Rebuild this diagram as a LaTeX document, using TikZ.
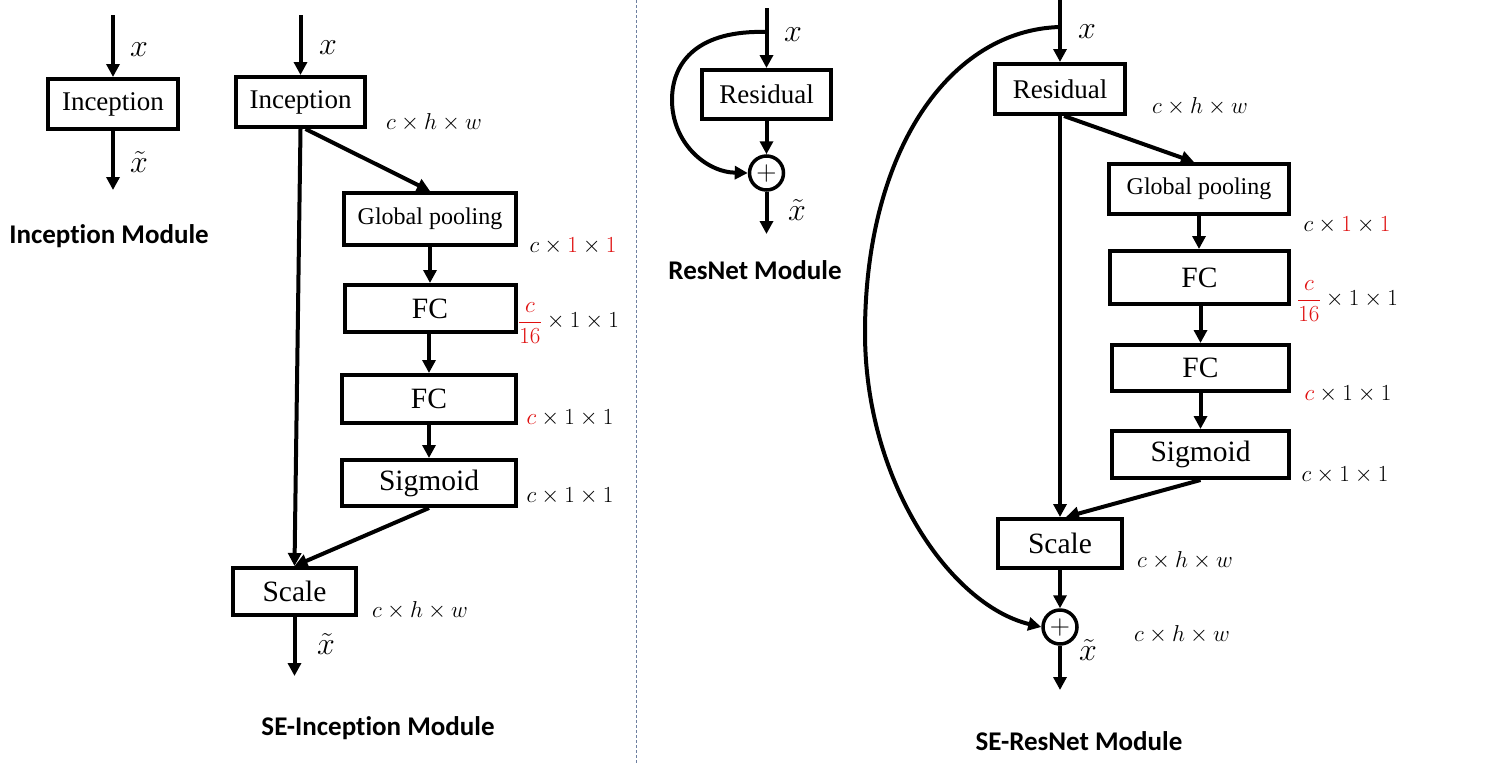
\RequirePackage{fix-cm}
\documentclass[tikz,border=0pt]{standalone}
\usepackage{fontspec}
\setmainfont{Liberation Serif}
\newfontfamily\titlefont[Ligatures=NoCommon]{Carlito}
\usetikzlibrary{arrows.meta}
\definecolor{divcol}{HTML}{6D7FA0}
\definecolor{myred}{HTML}{E01010}
\begin{document}
\begin{tikzpicture}[x=1pt,y=-1pt,
  box/.style={draw, line width=4pt, inner sep=0pt, font=\fontsize{27}{30}\selectfont},
  bigbox/.style={box, font=\fontsize{29.5}{32}\selectfont},
  gpbox/.style={box, font=\fontsize{24}{28}\selectfont},
  arr/.style={line width=4pt, -{Triangle[length=13pt,width=13pt]}},
  plusnode/.style={circle, draw, line width=3.5pt, minimum size=34pt, inner sep=0pt, font=\fontsize{28}{28}\selectfont},
  dimlab/.style={inner sep=0pt, font=\fontsize{23}{26}\selectfont},
  xlab/.style={inner sep=0pt, font=\fontsize{32}{34}\selectfont},
  title/.style={inner sep=0pt, font=\titlefont\bfseries\fontsize{27}{30}\selectfont}
]
\fill[white] (0,0) rectangle (1501,763);
\useasboundingbox (0,0) rectangle (1501,763);

% divider
\coordinate (dA) at (636,0);
\coordinate (dB) at (636,763);
\draw[divcol, line width=0.8pt, dash pattern=on 3pt off 2pt] (dA) -- (dB);

%%%%% Inception Module
\node[box, minimum width=130, minimum height=50] (inc1) at (113,104) {Inception};
\coordinate (in1) at (113,15);
\coordinate (out1) at (113,190);
\draw[arr] (in1) -- (inc1.north);
\draw[arr] (inc1.south) -- (out1);
\node[xlab] (lx1) at (139,50) {$x$};
\node[xlab] (lxt1) at (139,162) {$\tilde{x}$};
\node[title] (t1) at (109,236) {Inception Module};

%%%%% SE-Inception Module
\node[box, minimum width=129, minimum height=50] (inc2) at (300.5,102) {Inception};
\node[gpbox, minimum width=172, minimum height=52] (gp1) at (430,219) {Global pooling};
\node[bigbox, minimum width=171, minimum height=47] (fc1a) at (430,308.5) {FC};
\node[bigbox, minimum width=174, minimum height=48] (fc1b) at (429,399) {FC};
\node[bigbox, minimum width=174, minimum height=46] (sg1) at (429,483) {Sigmoid};
\node[bigbox, minimum width=123, minimum height=47] (sc1) at (294.5,591.5) {Scale};
\coordinate (in2) at (300.5,15);
\coordinate (out2) at (294.5,676);
\draw[arr] (in2) -- (inc2.north);
\draw[arr] (inc2.south) -- (sc1.north);
\draw[arr] ([xshift=5pt]inc2.south) -- (gp1.north);
\draw[arr] (gp1.south) -- (gp1.south |- fc1a.north);
\draw[arr] (fc1a.south -| fc1b.north) -- (fc1b.north);
\draw[arr] (fc1b.south) -- (sg1.north);
\draw[arr] (sg1.south) -- (sc1.north);
\draw[arr] (sc1.south) -- (out2);
\node[xlab] (lx2) at (328,48) {$x$};
\node[xlab] (lxt2) at (326,644) {$\tilde{x}$};
\node[dimlab] (d1) at (434,122) {$c\times h\times w$};
\node[dimlab] (d2) at (573,246) {$c\times{\color{myred}1}\times{\color{myred}1}$};
\node[dimlab, anchor=west] (d3) at (518,323) {${\color{myred}\displaystyle\frac{c}{16}}\times1\times1$};
\node[dimlab] (d4) at (570,418) {${\color{myred}c}\times1\times1$};
\node[dimlab] (d5) at (570,496) {$c\times1\times1$};
\node[dimlab] (d6) at (420,610) {$c\times h\times w$};
\node[title] (t2) at (378,728) {SE-Inception Module};

%%%%% ResNet Module
\node[box, minimum width=129, minimum height=49] (res1) at (766.5,94.5) {Residual};
\node[plusnode] (p1) at (766.5,173) {$+$};
\coordinate (in3) at (766.5,8);
\coordinate (rA) at (766.5,32);
\coordinate (out3) at (766.5,234);
\draw[arr] (in3) -- (res1.north);
\draw[arr] (res1.south) -- (p1.north);
\draw[arr] (p1.south) -- (out3);
\draw[arr] (rA) .. controls (700,30) and (672,60) .. (672,100) .. controls (672,142) and (705,172) .. (p1.west);
\node[xlab] (lx3) at (793,35) {$x$};
\node[xlab] (lxt3) at (797,210) {$\tilde{x}$};
\node[title] (t3) at (755,270) {ResNet Module};

%%%%% SE-ResNet Module
\node[box, minimum width=130, minimum height=50] (res2) at (1060,89) {Residual};
\node[gpbox, minimum width=180, minimum height=50] (gp2) at (1199,189) {Global pooling};
\node[bigbox, minimum width=179, minimum height=53] (fc2a) at (1199.5,277.5) {FC};
\node[bigbox, minimum width=177, minimum height=46] (fc2b) at (1200.5,368) {FC};
\node[bigbox, minimum width=177, minimum height=47] (sg2) at (1200.5,454.5) {Sigmoid};
\node[bigbox, minimum width=124, minimum height=49] (sc2) at (1060,543.5) {Scale};
\node[plusnode] (p2) at (1060,627) {$+$};
\coordinate (in4) at (1060,0);
\coordinate (rB) at (1060,27);
\coordinate (out4) at (1060,690);
\draw[arr] (in4) -- (res2.north);
\draw[arr] (res2.south) -- (sc2.north);
\draw[arr] ([xshift=4pt]res2.south) -- ([xshift=-5pt]gp2.north);
\draw[arr] (gp2.south) -- (gp2.south |- fc2a.north);
\draw[arr] (fc2a.south -| fc2b.north) -- (fc2b.north);
\draw[arr] (fc2b.south) -- (sg2.north);
\draw[arr] (sg2.south) -- ([xshift=6pt]sc2.north);
\draw[arr] (sc2.south) -- (p2.north);
\draw[arr] (p2.south) -- (out4);
\draw[arr] (rB) .. controls (950,30) and (866,150) .. (865,330) .. controls (864,480) and (950,605) .. (p2.west);
\node[xlab] (lx4) at (1087,32) {$x$};
\node[xlab] (lxt4) at (1088,650) {$\tilde{x}$};
\node[dimlab] (e1) at (1200,106) {$c\times h\times w$};
\node[dimlab] (e2) at (1347,225) {$c\times{\color{myred}1}\times{\color{myred}1}$};
\node[dimlab, anchor=west] (e3) at (1297,301) {${\color{myred}\displaystyle\frac{c}{16}}\times1\times1$};
\node[dimlab] (e4) at (1348,394) {${\color{myred}c}\times1\times1$};
\node[dimlab] (e5) at (1345,475) {$c\times1\times1$};
\node[dimlab] (e6) at (1185,560) {$c\times h\times w$};
\node[dimlab] (e7) at (1182,634) {$c\times h\times w$};
\node[title] (t4) at (1079,741) {SE-ResNet Module};
\end{tikzpicture}
\end{document}
